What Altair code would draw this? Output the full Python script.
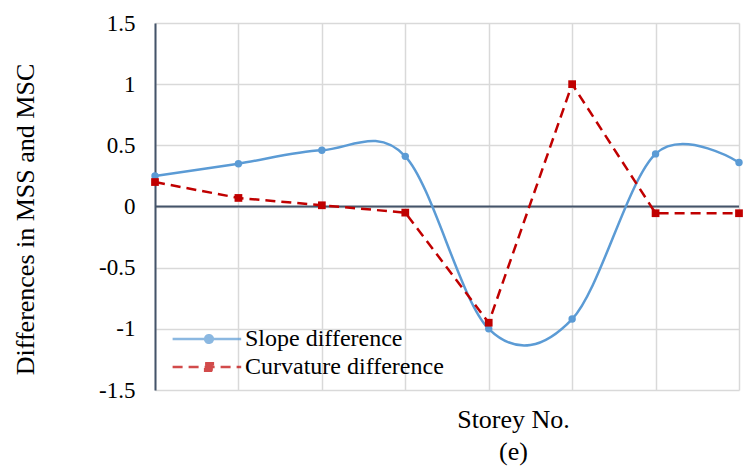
import altair as alt
import pandas as pd

# Storey numbers and the two difference series
storeys = [0, 1, 2, 3, 4, 5, 6, 7]
slope_diff = [0.25, 0.35, 0.46, 0.41, -1.0, -0.92, 0.43, 0.36]
curv_diff = [0.20, 0.07, 0.01, -0.05, -0.95, 1.0, -0.055, -0.055]
series_names = ["Slope difference", "Curvature difference"]
y_ticks = [-1.5, -1.0, -0.5, 0.0, 0.5, 1.0, 1.5]

BLUE = "#5B9BD5"
RED = "#C00000"
AXIS = "#44546A"
GRID = "#D9D9D9"
FONT = "Liberation Serif"

slope_df = pd.DataFrame({"storey": storeys, "value": slope_diff, "series": series_names[0]})
curv_df = pd.DataFrame({"storey": storeys, "value": curv_diff, "series": series_names[1]})
all_df = pd.concat([slope_df, curv_df], ignore_index=True)
zero_df = pd.DataFrame({"value": [0.0]})
xlab_df = pd.DataFrame({"storey": storeys, "value": [0.0] * len(storeys)})

x_scale = alt.Scale(domain=[0, 7], nice=False, zero=False)
y_scale = alt.Scale(domain=[-1.5, 1.5], nice=False)

x_enc = alt.X(
    "storey:Q",
    scale=x_scale,
    axis=alt.Axis(
        values=storeys, grid=True, gridColor=GRID, gridWidth=1.5,
        labels=False, ticks=False, domain=False,
        title=["Storey No.", "(e)"], titleFont=FONT, titleFontSize=26,
        titleFontWeight="normal", titleColor="black",
        titleX=358, titleY=37, titleBaseline="alphabetic", titleLineHeight=32,
    ),
)
y_enc = alt.Y(
    "value:Q",
    scale=y_scale,
    axis=alt.Axis(
        values=y_ticks, grid=True, gridColor=GRID, gridWidth=1.5,
        ticks=False, domain=True, domainColor=AXIS, domainWidth=2,
        labelExpr="'' + datum.value", labelFont=FONT, labelFontSize=23,
        labelColor="black", labelPadding=20,
        title="Differences in MSS and MSC", titleFont=FONT, titleFontSize=26,
        titleFontWeight="normal", titleColor="black",
        titleX=-122, titleY=196, titleAngle=-90, titleBaseline="alphabetic",
    ),
)

base = alt.Chart(all_df).encode(x=x_enc, y=y_enc)

zero_rule = alt.Chart(zero_df).mark_rule(color=AXIS, strokeWidth=2).encode(
    y=alt.Y("value:Q", scale=y_scale)
)

x_labels = alt.Chart(xlab_df).mark_text(
    font=FONT, fontSize=23, color="black", dy=27, baseline="middle"
).encode(x=alt.X("storey:Q", scale=x_scale), y=alt.Y("value:Q", scale=y_scale))

slope_line = alt.Chart(slope_df).mark_line(
    color=BLUE, strokeWidth=2.5, interpolate="cardinal", tension=0
).encode(x=alt.X("storey:Q", scale=x_scale), y=alt.Y("value:Q", scale=y_scale))
slope_pts = alt.Chart(slope_df).mark_point(
    shape="circle", filled=True, color=BLUE, size=55, opacity=1
).encode(x=alt.X("storey:Q", scale=x_scale), y=alt.Y("value:Q", scale=y_scale))

curv_line = alt.Chart(curv_df).mark_line(
    color=RED, strokeWidth=2.5, strokeDash=[10, 6]
).encode(x=alt.X("storey:Q", scale=x_scale), y=alt.Y("value:Q", scale=y_scale))
curv_pts = alt.Chart(curv_df).mark_point(
    shape="square", filled=True, color=RED, size=60, opacity=1
).encode(x=alt.X("storey:Q", scale=x_scale), y=alt.Y("value:Q", scale=y_scale))

# Legend-only layer: line-with-marker symbols drawn as custom paths
legend_props = dict(
    title=None, orient="none", legendX=42, legendY=304,
    symbolSize=196, symbolStrokeWidth=2.5, labelOffset=24, labelLimit=0,
    labelFont=FONT, labelFontSize=24, labelColor="black",
    rowPadding=4, padding=0,
)
circle_path = "M-5.2,0H4.6M-0.55,0A0.55,0.55 0 1,0 0.55,0A0.55,0.55 0 1,0 -0.55,0Z"
square_path = "M-5.2,0H4.6M-0.55,-0.55H0.55V0.55H-0.55Z"
legend_layer = alt.Chart(all_df).transform_filter("false").mark_point(
    filled=True, strokeWidth=2.5
).encode(
    x=alt.X("storey:Q", scale=x_scale),
    y=alt.Y("value:Q", scale=y_scale),
    color=alt.Color("series:N", scale=alt.Scale(domain=series_names, range=[BLUE, RED]),
                    legend=alt.Legend(**legend_props)),
    stroke=alt.Stroke("series:N", scale=alt.Scale(domain=series_names, range=[BLUE, RED]),
                      legend=alt.Legend(**legend_props)),
    shape=alt.Shape("series:N", scale=alt.Scale(domain=series_names, range=[circle_path, square_path]),
                    legend=alt.Legend(**legend_props)),
    strokeDash=alt.StrokeDash("series:N", scale=alt.Scale(domain=series_names, range=[[1, 0], [10, 6]]),
                              legend=alt.Legend(**legend_props)),
)

grid_layer = base.mark_point(opacity=0)

chart = alt.layer(
    grid_layer, zero_rule, x_labels, slope_line, slope_pts, curv_line, curv_pts, legend_layer
).properties(
    width=584, height=367,
    autosize=alt.AutoSizeParams(type="none"),
    padding={"left": 155, "top": 23, "right": 10, "bottom": 84},
).configure_view(stroke=None)

chart.save("out.html", embed_options={"renderer": "svg", "actions": False})
